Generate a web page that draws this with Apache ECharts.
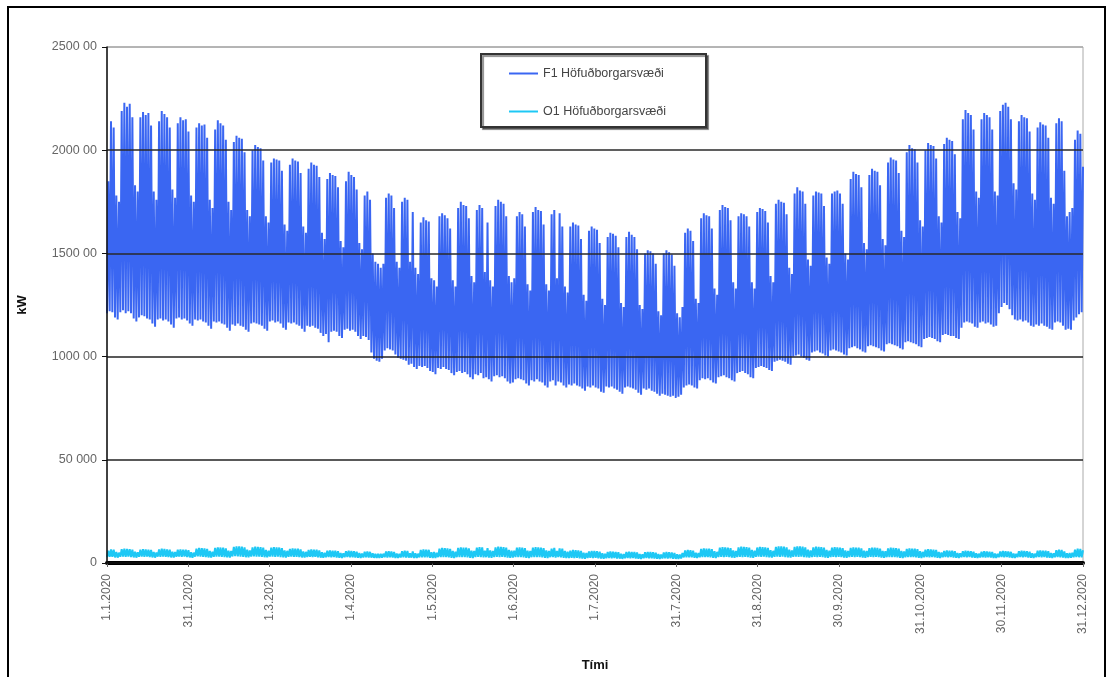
<!DOCTYPE html>
<html>
<head>
<meta charset="utf-8">
<script src="https://cdn.jsdelivr.net/npm/echarts@6/dist/echarts.min.js"></script>
<style>
html,body{margin:0;padding:0;background:#fff;}
#chart{width:1114px;height:677px;}
</style>
</head>
<body>
<div id="chart"></div>
<script>
// ---- data (kW), one low (night) and one high (day peak) value per day, 1.1.2020 .. 31.12.2020 ----
const seriesNames = ['F1 Höfuðborgarsvæði', 'O1 Höfuðborgarsvæði'];
const xTickLabels = ['1.1.2020','31.1.2020','1.3.2020','1.4.2020','1.5.2020','1.6.2020','1.7.2020','31.7.2020','31.8.2020','30.9.2020','31.10.2020','30.11.2020','31.12.2020'];
const yTickLabels = ['0','50 000','1000 00','1500 00','2000 00','2500 00'];

const f1High = [
185000,214000,211000,178000,175000,
219000,223000,221000,222500,216000,183000,180000,
216000,218500,217000,218000,212000,180000,176000,
214000,219000,217500,216000,211000,181000,177000,
213000,216000,214500,215000,209000,178000,175000,
211000,213000,212000,212500,206000,176000,172000,
210000,214500,213000,212000,205000,175000,171000,
204000,207000,206000,205500,199000,171000,168000,
200000,202500,201500,201000,195000,168000,165000,
194000,196000,195500,195000,190000,164000,161000,
193000,196000,195000,194500,189000,163000,160000,
191000,194000,193000,192500,187000,160000,157000,
186000,189000,188000,187500,182000,156000,153000,
185000,189500,188000,187000,181000,155000,152000,
178000,180000,176000,150000,146000,145000,143000,
145000,177000,179000,178000,172000,146000,143000,
175000,177000,176000,146000,170000,143000,140000,
165000,167500,166000,165500,138000,137000,134000,
168000,169500,168500,167000,162000,137000,134000,
172000,175000,173500,173000,167000,139000,136000,
171000,173500,172000,141000,165000,137000,134000,
173000,176000,175000,174000,168000,139000,136000,
138000,168000,170000,169000,163000,135000,132000,
170000,172500,171000,170500,164000,135000,132000,
169000,171000,138000,169500,163000,134000,131000,
163000,165000,164000,163500,157000,130000,127000,
161000,163000,162000,161500,155000,128000,125000,
158000,160000,159500,158500,153000,126000,124000,
158000,160500,159000,158000,152000,125000,123000,
150000,151500,151000,150000,145000,122000,120000,
150000,151500,150500,149500,144000,121000,119000,
124000,160000,162000,161000,156000,128000,126000,
167000,169500,168500,168000,162000,133000,130000,
171000,173500,172500,172000,166000,136000,133000,
168000,169500,169000,168000,163000,136000,133000,
170000,172000,171500,170500,165000,139000,136000,
174000,176000,175000,174500,169000,143000,140000,
179000,182000,180500,180000,174000,147000,144000,
178000,180000,179500,179000,173000,148000,145000,
179000,180000,180500,179000,174000,150000,147000,
186000,189500,188500,188000,182000,155000,152000,
188000,191000,190000,189500,183000,157000,154000,
194000,196500,195500,195000,189000,161000,158000,
199000,202500,201000,200500,194000,166000,163000,
200000,203500,202500,202000,196000,168000,165000,
203000,206000,205000,204500,198000,170000,167000,
215000,219500,218000,217000,210000,180000,177000,
215000,218000,217000,216000,210000,180000,178000,
219000,222000,223000,221000,215000,184000,181000,
214000,217000,216000,215500,209000,179000,176000,
211000,213500,212500,212000,206000,177000,174000,
213000,215500,214000,190000,168000,170000,172000,
205000,209500,208000,192000
];
const f1Low = [
121000,122000,121500,119000,118000,
121500,122500,121000,122000,121000,118500,117000,
119000,120000,119500,118500,118000,116000,114500,
118000,118500,117500,118000,117000,115500,114000,
118500,119000,118000,118500,117500,116000,115000,
118000,117500,118000,117000,116500,115000,113500,
117000,116500,117000,116000,115500,114000,112500,
115500,115000,116000,115000,114500,113000,112000,
116000,116500,116000,115500,115000,113500,112500,
117000,117500,116500,117000,116000,114000,113000,
116500,116000,116500,115500,115000,113500,112000,
115000,114500,115000,114000,113500,111500,110000,
111000,107000,112000,112500,112000,110000,109000,
113000,113500,112500,113000,112000,110000,108500,
110000,109500,108000,102000,99000,98000,97500,
99000,103000,104000,103500,103000,101000,99500,
99000,98500,98000,96000,96500,95000,94000,
95500,95000,95500,94500,93000,92500,91500,
94500,94000,95000,94000,93500,92000,91000,
92500,93000,92000,92500,91500,90000,89000,
91500,91000,92000,89500,90000,89000,88000,
90500,91000,90000,90500,89500,88000,87000,
87500,89000,89500,89000,88500,87000,86000,
88500,88000,89000,88000,87500,86000,85000,
88000,88500,86000,88000,87500,86000,85000,
86500,86000,87000,86000,85500,84500,83500,
85500,85000,86000,85000,84500,83000,82500,
85500,85000,85500,84500,84000,83000,82000,
85000,85500,85000,84500,84000,82500,81500,
84500,84000,84500,83500,83000,82000,81000,
82000,81500,81000,80500,81000,80000,80500,
81500,85000,86000,86500,86000,85000,84500,
88500,89500,89000,89500,88500,87500,87000,
90000,90500,91000,90000,89500,88500,88000,
92000,92500,93000,92000,91500,90000,89500,
94500,95000,95500,95000,94500,93500,93000,
97500,98000,98500,98000,97500,96500,96000,
100000,100500,101000,100000,99500,98500,98000,
102000,102500,103000,102000,101500,100500,100000,
103000,103500,103000,102500,102000,101000,100500,
104000,104500,105000,104000,103500,102500,102000,
105000,105500,105000,104500,104000,103000,102500,
106000,106500,106000,105500,105000,104000,103500,
107000,107500,107000,106500,106000,105000,104500,
108500,109000,109500,109000,108500,107500,107000,
110500,111000,110500,110000,110000,109000,108500,
114000,116500,117000,116500,116000,114500,114000,
116500,117000,116000,116500,115500,114500,115000,
121000,124000,126000,125000,123000,120000,118000,
117500,118000,117000,117500,116500,115000,114500,
115500,115000,116000,115000,114500,113500,113000,
116500,117000,116500,115000,113000,113500,113000,
117500,119000,120500,121500
];
const o1High = [
6000,6600,6400,5300,5000,
6700,6900,6800,6700,6500,5500,5200,
6500,6700,6600,6500,6300,5300,5100,
6600,6900,6800,6600,6400,5500,5300,
6400,6600,6500,6400,6200,5200,5000,
7000,7300,7200,7100,6800,5800,5500,
7300,7600,7500,7400,7100,6000,5800,
7800,8100,8000,7900,7600,6400,6100,
7600,7900,7800,7700,7400,6300,6000,
7400,7700,7600,7500,7200,6100,5900,
6800,7100,7000,6900,6600,5600,5400,
6300,6600,6500,6400,6100,5200,5000,
5900,6100,6000,5900,5700,4900,4700,
5700,5900,5800,5700,5500,4800,4600,
5400,5600,5400,4700,4500,4500,4400,
4500,5600,5700,5600,5400,4600,4400,
5700,5900,5800,4700,5600,4700,4500,
6300,6600,6500,6400,5200,5300,5000,
7000,7300,7200,7100,6800,5800,5500,
7300,7600,7500,7400,7100,6000,5800,
7400,7700,7600,6000,7200,6100,5800,
7600,7900,7800,7700,7400,6300,6000,
6000,7500,7600,7500,7200,6000,5800,
7400,7700,7600,7500,7200,6100,5800,
7000,7300,5800,7100,6900,5800,5500,
6000,6300,6200,6100,5900,5000,4800,
5600,5900,5800,5700,5500,4700,4500,
5400,5600,5500,5400,5200,4500,4300,
5300,5500,5400,5300,5100,4400,4200,
5200,5400,5300,5200,5000,4300,4100,
5100,5300,5200,5100,4900,4200,4100,
4800,6100,6300,6200,6000,5000,4800,
6800,7100,7000,6900,6700,5700,5400,
7400,7700,7600,7500,7200,6100,5800,
7600,7900,7800,7700,7400,6300,6000,
7500,7800,7700,7600,7300,6200,5900,
7800,8100,8000,7900,7600,6400,6100,
7800,8100,8000,7900,7600,6400,6100,
7600,7900,7800,7700,7400,6300,6000,
7400,7700,7600,7500,7200,6100,5800,
7300,7600,7500,7400,7100,6000,5800,
7200,7500,7400,7300,7000,5900,5700,
7100,7400,7300,7200,6900,5900,5600,
6800,7100,7000,6900,6700,5700,5400,
6400,6700,6600,6500,6300,5300,5100,
5800,6100,6000,5900,5700,4900,4700,
5700,5900,5800,5700,5500,4700,4500,
5500,5700,5600,5500,5300,4600,4400,
5600,5800,5700,5600,5400,4600,4400,
5700,5900,5800,5700,5500,4700,4500,
5900,6100,6000,5900,5700,4900,4700,
6200,6400,6300,5600,4700,4800,5000,
6500,7000,6800,6200
];
const o1Low = [
2800,3000,3000,2700,2600,
3000,3100,3000,3100,2900,2700,2600,
3000,3100,3000,3100,2900,2700,2600,
3100,3000,3100,3000,2900,2700,2600,
3000,3100,3000,3100,2900,2700,2600,
3100,3200,3100,3000,2900,2700,2600,
3000,3100,3100,3000,2900,2700,2600,
3200,3300,3200,3100,3000,2800,2700,
3100,3200,3100,3100,3000,2800,2700,
3100,3100,3000,3100,2900,2700,2600,
3000,3100,3000,3000,2900,2700,2600,
2900,3000,2900,3000,2800,2600,2500,
2800,2900,2800,2900,2700,2500,2400,
2800,2900,2800,2800,2700,2500,2400,
2700,2800,2700,2600,2500,2400,2400,
2600,2800,2700,2800,2600,2400,2400,
2700,2800,2700,2600,2600,2400,2400,
2700,2800,2700,2800,2500,2400,2400,
2800,2900,2800,2900,2700,2500,2400,
2800,2900,2800,2900,2700,2500,2400,
2900,3000,2900,2700,2800,2600,2500,
2900,3000,2900,3000,2800,2600,2500,
2600,2900,2800,2900,2700,2500,2400,
2800,2900,2800,2900,2700,2500,2400,
2800,2900,2600,2900,2700,2500,2400,
2400,2500,2400,2500,2300,2200,2100,
2400,2500,2400,2500,2300,2200,2100,
2300,2400,2300,2400,2200,2100,2000,
2300,2400,2300,2400,2200,2100,2000,
2300,2400,2300,2300,2200,2100,2000,
2200,2300,2200,2300,2100,2000,2000,
2200,2700,2800,2800,2700,2500,2400,
2800,2900,2800,2900,2700,2500,2400,
2900,3000,2900,3000,2800,2600,2500,
2900,3000,2900,3000,2800,2600,2500,
3000,3100,3000,3100,2900,2700,2600,
3000,3100,3000,3100,2900,2700,2600,
3000,3100,3000,3100,2900,2700,2600,
2900,3000,2900,3000,2800,2600,2500,
2900,3000,2900,3000,2800,2600,2500,
2900,3000,2900,3000,2800,2600,2500,
2900,3000,2900,3000,2800,2600,2500,
2800,2900,2800,2900,2700,2500,2400,
2800,2900,2800,2900,2700,2500,2400,
2800,2900,2800,2900,2700,2500,2400,
2800,2900,2800,2900,2700,2500,2400,
2800,2900,2800,2900,2700,2500,2400,
2700,2800,2700,2800,2600,2400,2400,
2800,2900,2800,2900,2700,2500,2400,
2800,2900,2800,2900,2700,2500,2400,
2800,2900,2800,2900,2700,2500,2400,
2800,2900,2800,2600,2400,2400,2500,
2800,2900,2800,2700
];

// ---- build [hour, value] points; each day contributes its night low then its day peak ----
const HOURS = 8760;
function buildPoints(high, low) {
  const n = high.length * 2;
  const pts = [];
  for (let d = 0; d < high.length; d++) {
    pts.push([(2 * d) * HOURS / (n - 1), low[d]]);
    pts.push([(2 * d + 1) * HOURS / (n - 1), high[d]]);
  }
  return pts;
}

const chart = echarts.init(document.getElementById('chart'), null, { renderer: 'canvas' });
const FONT = 'Liberation Sans, Arial, sans-serif';

chart.setOption({
  animation: false,
  backgroundColor: '#ffffff',
  graphic: [
    { type: 'rect', z: 100, silent: true,
      shape: { x: 8, y: 7, width: 1097, height: 690 },
      style: { fill: 'none', stroke: '#000', lineWidth: 2 } },
    { type: 'rect', z: 90, silent: true,
      shape: { x: 481, y: 54, width: 225, height: 73 },
      style: { fill: '#fff', stroke: '#333', lineWidth: 2, shadowColor: 'rgba(0,0,0,0.45)', shadowOffsetX: 2, shadowOffsetY: 2, shadowBlur: 1 } }
  ],
  legend: {
    z: 95,
    orient: 'vertical',
    left: 509,
    top: 67,
    icon: 'rect',
    itemWidth: 29,
    itemHeight: 2,
    itemGap: 25,
    padding: 0,
    textStyle: { color: '#444', fontSize: 12.5, fontFamily: FONT },
    data: seriesNames
  },
  grid: {
    left: 107, right: 31, top: 47, bottom: 113,
    show: true, borderColor: '#aaa', borderWidth: 1
  },
  xAxis: {
    type: 'value',
    min: 0, max: HOURS, interval: HOURS / 12,
    name: 'Tími',
    nameLocation: 'middle',
    nameGap: 96,
    nameTextStyle: { color: '#111', fontSize: 13, fontWeight: 'bold', fontFamily: FONT },
    axisLine: { show: true, onZero: false, lineStyle: { color: '#000', width: 4 } },
    axisTick: { show: true, length: 4, lineStyle: { color: '#666' } },
    axisLabel: {
      rotate: 90, margin: 11, color: '#666', fontSize: 12, fontFamily: FONT,
      formatter: function (v) { return xTickLabels[Math.round(v / (HOURS / 12))] || ''; }
    },
    splitLine: { show: false }
  },
  yAxis: {
    type: 'value',
    z: 10,
    min: 0, max: 250000, interval: 50000,
    name: 'kW',
    nameLocation: 'middle',
    nameGap: 78,
    nameRotate: 90,
    nameTextStyle: { color: '#111', fontSize: 13, fontWeight: 'bold', fontFamily: FONT },
    axisLine: { show: true, lineStyle: { color: '#111', width: 1.5 } },
    axisTick: { show: true, length: 5, lineStyle: { color: '#111' } },
    axisLabel: {
      margin: 10, color: '#666', fontSize: 12.5, fontFamily: FONT,
      formatter: function (v) { return yTickLabels[Math.round(v / 50000)]; }
    },
    splitLine: { show: true, lineStyle: { color: ['#111', '#222', '#222', '#2a2a2a', '#2a2a2a', '#aaa'], width: 1.6 } }
  },
  series: [
    {
      name: seriesNames[0],
      type: 'line',
      data: buildPoints(f1High, f1Low),
      symbol: 'none',
      sampling: null,
      lineStyle: { color: '#3A66F2', width: 2 },
      itemStyle: { color: '#3A66F2' },
      z: 3
    },
    {
      name: seriesNames[1],
      type: 'line',
      data: buildPoints(o1High, o1Low),
      symbol: 'none',
      lineStyle: { color: '#1EC8F5', width: 2 },
      itemStyle: { color: '#1EC8F5' },
      z: 4
    }
  ]
});
</script>
</body>
</html>
